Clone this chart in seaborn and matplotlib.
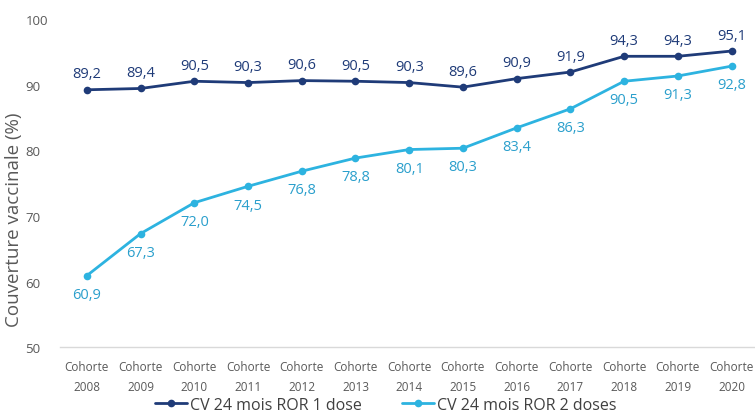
import matplotlib
matplotlib.use('Agg')
from matplotlib import pyplot as plt
import seaborn as sns
import pandas as pd

cohortes = ['Cohorte\n2008', 'Cohorte\n2009', 'Cohorte\n2010', 'Cohorte\n2011', 'Cohorte\n2012',
            'Cohorte\n2013', 'Cohorte\n2014', 'Cohorte\n2015', 'Cohorte\n2016', 'Cohorte\n2017',
            'Cohorte\n2018', 'Cohorte\n2019', 'Cohorte\n2020']
une_dose = [89.2, 89.4, 90.5, 90.3, 90.6, 90.5, 90.3, 89.6, 90.9, 91.9, 94.3, 94.3, 95.1]
deux_doses = [60.9, 67.3, 72.0, 74.5, 76.8, 78.8, 80.1, 80.3, 83.4, 86.3, 90.5, 91.3, 92.8]
serie_1 = 'CV 24 mois ROR 1 dose'
serie_2 = 'CV 24 mois ROR 2 doses'

df = pd.DataFrame({'x': list(range(len(cohortes))) * 2,
                   'cv': une_dose + deux_doses,
                   'serie': [serie_1] * len(cohortes) + [serie_2] * len(cohortes)})

sns.set_style('white')
plt.rcParams['font.family'] = ['Open Sans', 'DejaVu Sans']

dark = '#1f3b78'
light = '#2db3e0'
fig = plt.figure(figsize=(7.55, 4.14), dpi=100)
ax = fig.add_axes([0.0795, 0.159, 0.925, 0.793])
sns.lineplot(data=df, x='x', y='cv', hue='serie', palette=[dark, light], marker='o',
             markersize=5.5, markeredgewidth=0, linewidth=2, ax=ax)

for i, v in enumerate(une_dose):
    ax.annotate(f'{v:.1f}'.replace('.', ','), (i, v), xytext=(0, 11.5), textcoords='offset points',
                ha='center', va='center', fontsize=10.5, color=dark)
for i, v in enumerate(deux_doses):
    ax.annotate(f'{v:.1f}'.replace('.', ','), (i, v), xytext=(0, -13.5), textcoords='offset points',
                ha='center', va='center', fontsize=10.5, color='#2a9fcc')

ax.set_xlim(-0.5, 12.5)
ax.set_ylim(50, 100)
ax.set_yticks([50, 60, 70, 80, 90, 100])
ax.set_xticks(range(len(cohortes)))
ax.set_xticklabels(cohortes, fontsize=8.5, color='#595959', linespacing=1.75)
ax.tick_params(axis='y', labelsize=9.5, labelcolor='#595959', length=0, pad=25)
for t in ax.get_yticklabels():
    t.set_horizontalalignment('left')
ax.tick_params(axis='x', length=0, pad=9)
for s in ['top', 'right', 'left']:
    ax.spines[s].set_visible(False)
ax.spines['bottom'].set_color('#d9d9d9')
ax.spines['bottom'].set_linewidth(1)
ax.set_xlabel('')
ax.set_ylabel('Couverture vaccinale (%)', fontsize=13.5, color='#595959')
ax.yaxis.set_label_coords(-0.053, 0.39)

h, l = ax.get_legend_handles_labels()
ax.legend(h, l, loc='center', bbox_to_anchor=(0.466, -0.175), ncol=2, frameon=False,
          fontsize=11.5, handlelength=2, handletextpad=0.2, columnspacing=2.5,
          labelcolor='#404040')

plt.savefig('out.png', dpi=100)
